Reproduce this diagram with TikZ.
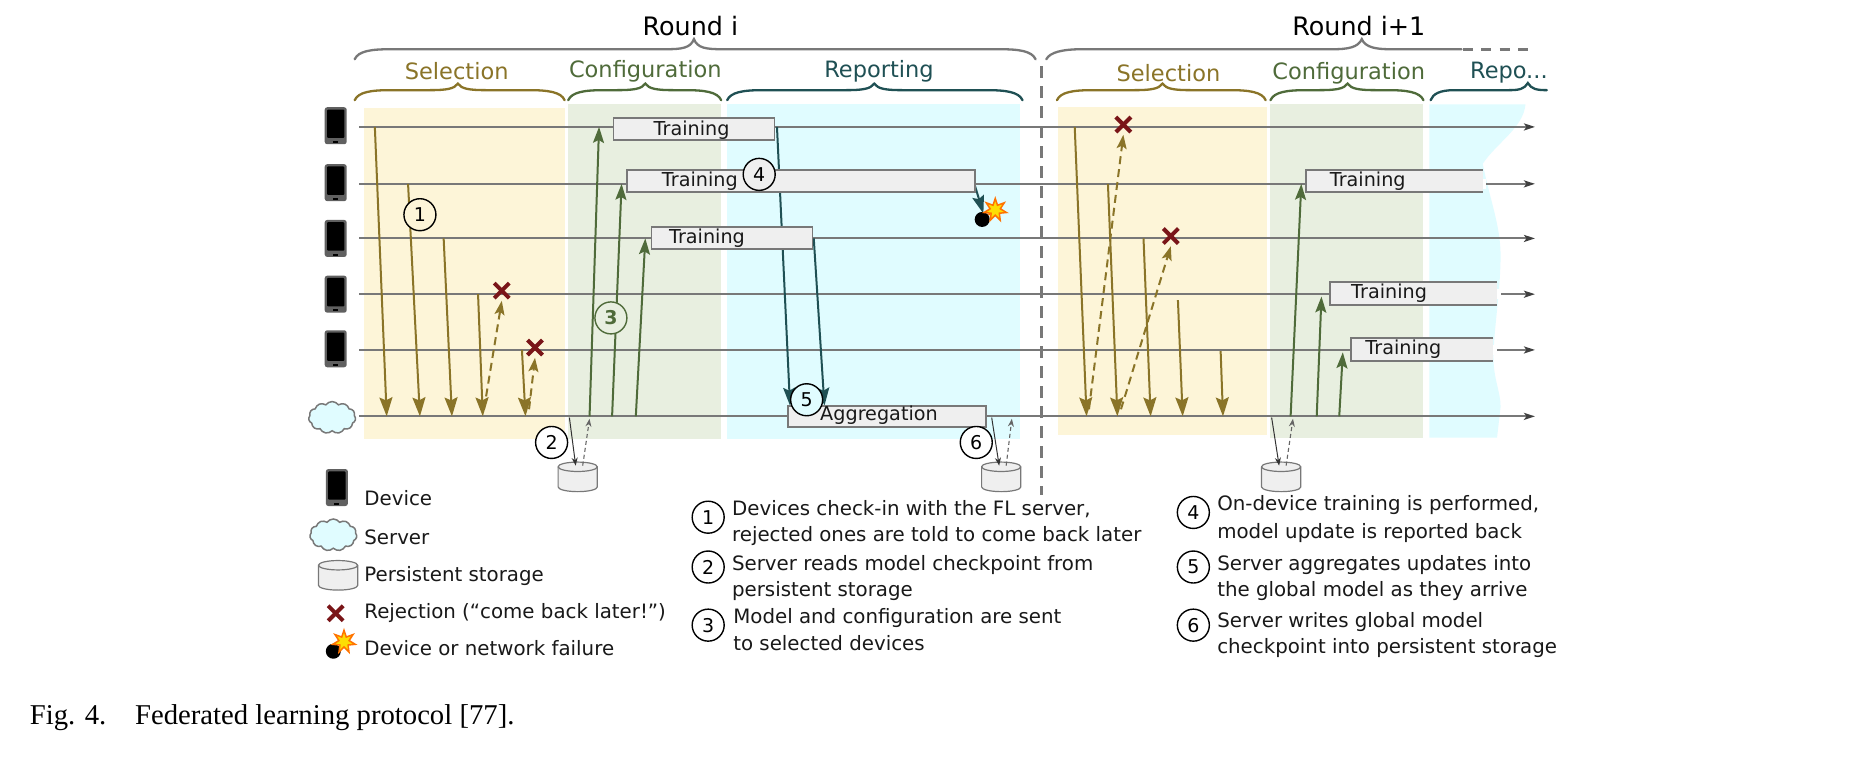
\documentclass[tikz,border=0pt]{standalone}
\usepackage{fontspec}
\setmainfont{DejaVu Sans}
\newfontfamily\capfont{Liberation Serif}
\usetikzlibrary{arrows.meta,shapes.symbols,shapes.geometric,calc}
\definecolor{selc}{HTML}{8A7428}
\definecolor{cfgc}{HTML}{4F6B3A}
\definecolor{repc}{HTML}{1F5054}
\definecolor{selbg}{HTML}{FDF5D8}
\definecolor{cfgbg}{HTML}{E8EFE0}
\definecolor{repbg}{HTML}{E0FCFF}
\definecolor{linec}{HTML}{787878}
\definecolor{boxc}{HTML}{EFEFEF}
\definecolor{rejc}{HTML}{7A1518}
\tikzset{
  x=1.1862pt,y=-1.1862pt,
  tl/.style={draw=linec,line width=2pt,-{Stealth[length=11pt,width=7pt,inset=2.5pt,color=black!75]}},
  selar/.style={draw=selc,line width=2pt,-{Stealth[length=19pt,width=13pt,inset=3pt]}},
  seldash/.style={draw=selc,line width=2pt,dash pattern=on 8pt off 5pt,-{Stealth[length=14pt,width=10pt,inset=3pt]}},
  cfgar/.style={draw=cfgc,line width=2pt,-{Stealth[length=16pt,width=11pt,inset=3pt]}},
  repar/.style={draw=repc,line width=2pt,-{Stealth[length=18pt,width=12pt,inset=3pt]}},
  thinar/.style={draw=black!80,line width=1pt},
  thindash/.style={draw=black!60,line width=1.1pt,dash pattern=on 4pt off 3pt,-{Stealth[length=8pt,width=6pt]}},
  trainbox/.style={draw=linec,line width=1.8pt,fill=boxc,inner sep=0pt},
  lbl/.style={inner sep=0pt,font=\fontsize{19.2}{21}\selectfont,text=black!90,anchor=center},
  notetx/.style={inner sep=0pt,anchor=west,font=\fontsize{19.8}{22}\selectfont,text=black!90},
  num/.style={circle,draw=black,line width=1.4pt,minimum size=32pt,inner sep=0pt,font=\fontsize{19}{21}\selectfont,fill=white},
  ttl/.style={inner sep=0pt,font=\fontsize{25.4}{28}\selectfont},
  sub/.style={inner sep=0pt,font=\fontsize{22.5}{25}\selectfont},
  phonebody/.style={draw=none,fill=gray!75!black,rounded corners=2.5pt,minimum width=22pt,minimum height=37pt,inner sep=0pt},
  cloudnode/.style={cloud,cloud puffs=11,cloud puff arc=110,aspect=1.5,draw=linec,line width=1.5pt,fill=repbg,minimum width=47pt,minimum height=32pt,inner sep=0pt},
  cylbox/.style={draw=none,minimum width=39pt,minimum height=30pt,inner sep=0pt},
  bombn/.style={circle,fill=black,minimum size=15pt,inner sep=0pt},
  starn/.style={star,star points=7,star point ratio=2.2,draw=orange!90!red,line width=1.5pt,fill=yellow!80!orange,minimum size=23pt,inner sep=0pt},
  xn/.style={inner sep=0pt,minimum size=18pt},
}
\newcommand{\phoneat}[3]{%
  \node[phonebody] (#1) at (#2,#3) {};
  \fill[black,rounded corners=1pt] ($(#1.north west)+(2.5pt,-2.5pt)$) rectangle ($(#1.south east)+(-2.5pt,6.5pt)$);
  \fill[black] ($(#1.south)+(-2.6pt,1.5pt)$) rectangle ($(#1.south)+(2.6pt,3.6pt)$);
}
\newcommand{\rej}[3]{%
  \node[xn] (#1) at (#2,#3) {};
  \draw[rejc,line width=4pt] ($(#1.center)+(-7.5pt,-7.5pt)$) -- ($(#1.center)+(7.5pt,7.5pt)$);
  \draw[rejc,line width=4pt] ($(#1.center)+(-7.5pt,7.5pt)$) -- ($(#1.center)+(7.5pt,-7.5pt)$);
}
\newcommand{\storage}[3]{%
  \node[cylbox] (#1) at (#2,#3) {};
  \draw[linec,line width=1.2pt,fill=boxc] (#2-16.5,#3-8.5) -- (#2-16.5,#3+8.5)
    arc[start angle=180,end angle=360,x radius=19.6pt,y radius=4.7pt] -- (#2+16.5,#3-8.5)
    arc[start angle=0,end angle=180,x radius=19.6pt,y radius=4.7pt];
  \draw[linec,line width=1.2pt] (#2-16.5,#3-8.5) arc[start angle=180,end angle=360,x radius=19.6pt,y radius=4.7pt];
}
\newcommand{\curly}[6]{% colour, left, tip, right, bottom y, tip rise
  \draw[#1,line width=2.3pt,line cap=round] (#2,#5)
   .. controls (#2+3,#5-7) and (#2+14,#5-8.5) .. (#2+30,#5-8.5) -- (#3-24,#5-8.5)
   .. controls (#3-10,#5-8.5) and (#3-3,#5-9.5) .. (#3,#5-#6)
   .. controls (#3+3,#5-9.5) and (#3+10,#5-8.5) .. (#3+24,#5-8.5) -- (#4-30,#5-8.5)
   .. controls (#4-14,#5-8.5) and (#4-3,#5-7) .. (#4,#5);
}
\begin{document}
\begin{tikzpicture}
\useasboundingbox (0,0) rectangle (1568,644);
\fill[white] (0,0) rectangle (1568,644);
% phase backgrounds
\fill[selbg] (307,91) rectangle (476,370);
\fill[cfgbg] (479,88) rectangle (608,370);
\fill[repbg] (613,88) rectangle (860,370);
\fill[selbg] (892,90) rectangle (1068,367);
\fill[cfgbg] (1071,88) rectangle (1200,369);
\fill[repbg] (1205,88) -- (1286,88) .. controls (1284,108) and (1262,120) .. (1250,138)
  .. controls (1255,165) and (1265,190) .. (1265,215) .. controls (1265,245) and (1259,280) .. (1259,301)
  .. controls (1259,320) and (1265,330) .. (1265,343) -- (1262,369) -- (1205,369) -- cycle;
% round separator
\coordinate (septop) at (878,56);
\coordinate (sepbot) at (878,417);
\draw[linec,line width=3.2pt,dash pattern=on 12pt off 8pt] (septop) -- (sepbot);
% titles and braces
\node[ttl] (roundi) at (582,22) {Round i};
\node[ttl] (roundj) at (1145.5,22) {Round i+1};
\curly{linec}{299}{585}{873}{50}{17}
\draw[linec,line width=2.3pt,line cap=round] (882,50) .. controls (885,44) and (896,41.5) .. (912,41.5) -- (1124,41.5)
   .. controls (1136,41.5) and (1145,40) .. (1148,33) .. controls (1151,40) and (1160,41.5) .. (1172,41.5) -- (1232,41.5);
\draw[linec,line width=2.6pt,dash pattern=on 10pt off 8.5pt] (1233,41.5) -- (1291,41.5);
\node[sub,text=selc] (s1) at (385,60) {Selection};
\curly{selc}{299}{386}{476}{84.5}{14}
\node[sub,text=cfgc] (c1) at (544,60) {Configuration};
\curly{cfgc}{479}{544}{608}{84.5}{14}
\node[sub,text=repc] (r1) at (741,60) {Reporting};
\curly{repc}{613}{737}{862}{84.5}{14}
\node[sub,text=selc] (s2) at (985,62) {Selection};
\curly{selc}{891}{980}{1067}{84.5}{14}
\node[sub,text=cfgc] (c2) at (1137,62) {Configuration};
\curly{cfgc}{1071}{1136}{1200}{84.5}{14}
\node[sub,text=repc] (r2) at (1272,61) {Repo...};
\draw[repc,line width=2.3pt,line cap=round] (1206,84.5) .. controls (1208,79) and (1214,76) .. (1226,76) -- (1272,76) .. controls (1281,76) and (1285,75) .. (1288,70)
  .. controls (1291,75) and (1295,76) .. (1304,76);
% devices and server
\phoneat{p1}{283}{106}
\phoneat{p2}{283}{154}
\phoneat{p3}{283}{201}
\phoneat{p4}{283}{248}
\phoneat{p5}{283}{294}
\node[cloudnode] (srv) at (280,352) {};
% timelines
\foreach \n/\y/\x in {1/107/303,2/155/303,3/201/303,4/248/303,5/295/303,6/351/303}{
  \coordinate (la\n) at (\x,\y);
  \coordinate (lb\n) at (1294,\y);
  \draw[tl] (la\n) -- (lb\n);
}
% selection arrows
\foreach \n/\a/\b/\c/\d in {1/316/107/326/351,2/344/155/354/351,3/374/201/381/351,4/403/248/407/351,5/440/295/443/351,
  6/906/107/916/351,7/934/155/942/351,8/964/201/970/351,9/993/253/997/351,10/1029/296/1031/351}{
  \coordinate (sa\n) at (\a,\b);
  \coordinate (sb\n) at (\c,\d);
  \draw[selar] (sa\n) -- (sb\n);
}
% rejected answers
\rej{x1}{423}{245}
\rej{x2}{451}{293}
\rej{x3}{947}{105}
\rej{x4}{987}{199}
\foreach \n/\a/\b/\t in {1/408/345/x1,2/446/345/x2,3/918/345/x3,4/945/345/x4}{
  \coordinate (da\n) at (\a,\b);
  \draw[seldash] (da\n) -- ($(\t.south)+(0pt,-1pt)$);
}
% configuration arrows
\foreach \n/\a/\b/\c/\d in {1/497/351/505/107,2/516/351/524/155,3/536/351/544/201,
  4/1088/351/1097/155,5/1110/351/1114/250,6/1129/351/1132/297}{
  \coordinate (ca\n) at (\a,\b);
  \coordinate (cb\n) at (\c,\d);
  \draw[cfgar] (ca\n) -- (cb\n);
}
% reporting arrows
\coordinate (ra1) at (655,107); \coordinate (rb1) at (666,342);
\coordinate (ra2) at (686,201); \coordinate (rb2) at (695,342);
\coordinate (ra3) at (822,157); \coordinate (rb3) at (829,180);
\draw[repar] (ra1) -- (rb1);
\draw[repar] (ra2) -- (rb2);
\draw[repar] (ra3) -- (rb3);
% training boxes
\node[trainbox,minimum width=161pt,minimum height=22pt] (t1) at (585,108.5) {};
\node[lbl] (t1l) at (583,110) {Training};
\node[trainbox,minimum width=348pt,minimum height=22pt] (t2) at (675,152.5) {};
\node[lbl] (t2l) at (590,153) {Training};
\node[trainbox,minimum width=161pt,minimum height=22pt] (t3) at (617,200.5) {};
\node[lbl] (t3l) at (596,201) {Training};
\fill[white] (1250,151) rectangle (1253,159);
\fill[white] (1262,244) rectangle (1265,252);
\fill[white] (1259,291) rectangle (1262,299);
\fill[boxc] (1101,143) rectangle (1250,162);
\draw[linec,line width=1.8pt] (1250,143) -- (1101,143) -- (1101,162) -- (1250,162);
\node[lbl] (t4l) at (1153,153) {Training};
\fill[boxc] (1121,238) rectangle (1262,257);
\draw[linec,line width=1.8pt] (1262,238) -- (1121,238) -- (1121,257) -- (1262,257);
\node[lbl] (t5l) at (1171,247) {Training};
\fill[boxc] (1139,285) rectangle (1259,304);
\draw[linec,line width=1.8pt] (1259,285) -- (1139,285) -- (1139,304) -- (1259,304);
\node[lbl] (t6l) at (1183,294) {Training};
\node[trainbox,minimum width=198pt,minimum height=21pt] (ag) at (747.5,351) {};
\node[lbl] (agl) at (741,350) {Aggregation};
% storage
\storage{d1}{487}{402}
\storage{d2}{844}{402}
\storage{d3}{1080}{402}
\foreach \n/\a/\b/\s in {1/480/497/d1,2/836/853/d2,3/1072/1090/d3}{
  \coordinate (ua\n) at (\a,352);
  \coordinate (ub\n) at (\b,353);
  \draw[thinar,-{Stealth[length=8pt,width=6pt]}] (ua\n) -- ($(\s.north)+(-2pt,-4pt)$);
  \draw[thindash] ($(\s.north)+(5pt,-4pt)$) -- (ub\n);
}
% failure
\node[bombn] (bomb) at (828,185) {};
\node[starn] (boom) at (839,177) {};
\draw[orange!90!red,line width=1.5pt] (bomb) -- (boom);
% numbered circles
\node[num,fill=selbg] (n1) at (354,181) {1};
\node[num] (n2) at (465,373) {2};
\node[num,draw=cfgc,text=cfgc,fill=cfgbg,font=\fontsize{19}{21}\selectfont\bfseries] (n3) at (515,268) {3};
\node[num,fill=boxc] (n4) at (640,147) {4};
\node[num,fill=repbg] (n5) at (680,337) {5};
\node[num] (n6) at (823,373) {6};
% legend
\phoneat{lp}{284}{411}
\node[notetx] (ltx1) at (307,420) {Device};
\node[cloudnode] (lc) at (281,451) {};
\node[notetx] (ltx2) at (307,453) {Server};
\storage{ld}{285}{485}
\node[notetx] (ltx3) at (307,486) {Persistent storage};
\rej{lx}{283}{517}
\node[notetx] (ltx4) at (307,517) {Rejection (“come back later!”)};
\node[bombn] (lb) at (281,549) {};
\node[starn] (ls) at (290,541) {};
\draw[orange!90!red,line width=1.5pt] (lb) -- (ls);
\node[notetx] (ltx5) at (307,546) {Device or network failure};
% notes
\node[num] (k1) at (597,436) {1};
\node[notetx] (k1a) at (617,429) {Devices check-in with the FL server,};
\node[notetx] (k1b) at (617,452) {rejected ones are told to come back later};
\node[num] (k2) at (597,478) {2};
\node[notetx] (k2a) at (617,476) {Server reads model checkpoint from};
\node[notetx] (k2b) at (617,498) {persistent storage};
\node[num] (k3) at (597,527) {3};
\node[notetx] (k3a) at (618,521) {Model and configuration are sent};
\node[notetx] (k3b) at (618,542) {to selected devices};
\node[num] (k4) at (1006,432) {4};
\node[notetx] (k4a) at (1026,426) {On-device training is performed,};
\node[notetx] (k4b) at (1026,449) {model update is reported back};
\node[num] (k5) at (1006,478) {5};
\node[notetx] (k5a) at (1026,476) {Server aggregates updates into};
\node[notetx] (k5b) at (1026,498) {the global model as they arrive};
\node[num] (k6) at (1006,527) {6};
\node[notetx] (k6a) at (1026,524) {Server writes global model};
\node[notetx] (k6b) at (1026,546) {checkpoint into persistent storage};
% caption
\node[inner sep=0pt,anchor=west,font=\capfont\fontsize{28.7}{31}\selectfont] (cap) at (25,605) {Fig. 4.\hspace{1em}Federated learning protocol [77].};
\end{tikzpicture}
\end{document}
